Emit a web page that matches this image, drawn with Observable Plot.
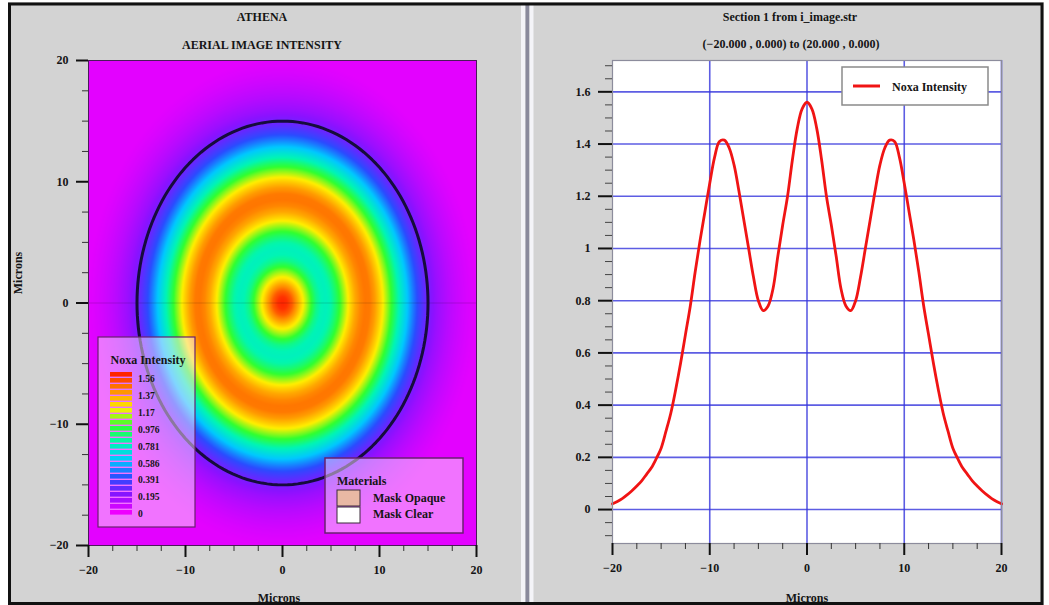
<!DOCTYPE html>
<html><head><meta charset="utf-8">
<script src="https://cdn.jsdelivr.net/npm/d3@7"></script>
<script src="https://cdn.jsdelivr.net/npm/@observablehq/plot@0.6"></script>
<style>
html,body{margin:0;padding:0;background:#fff;}
#root{position:relative;width:1049px;height:605px;overflow:hidden;}
#root > *{position:absolute;}
</style></head><body><div id="root"></div><script>
// ---------- data ----------
// cross-section along y = 0, from (-20,0) to (20,0)
const sectionX = [-20,-19.5,-19,-18.5,-18,-17.5,-17,-16.5,-16,-15.5,-15,-14.5,-14,-13.5,-13,-12.5,-12,-11.5,-11,-10.5,-10,-9.5,-9,-8.5,-8,-7.5,-7,-6.5,-6,-5.5,-5,-4.5,-4,-3.5,-3,-2.5,-2,-1.5,-1,-0.5,0,0.5,1,1.5,2,2.5,3,3.5,4,4.5,5,5.5,6,6.5,7,7.5,8,8.5,9,9.5,10,10.5,11,11.5,12,12.5,13,13.5,14,14.5,15,15.5,16,16.5,17,17.5,18,18.5,19,19.5,20];
const sectionY = [0.022,0.031,0.042,0.056,0.072,0.09,0.11,0.135,0.16,0.195,0.235,0.30,0.37,0.46,0.56,0.67,0.78,0.91,1.03,1.14,1.25,1.35,1.41,1.415,1.385,1.32,1.22,1.11,1.00,0.89,0.80,0.762,0.78,0.845,0.97,1.09,1.20,1.34,1.46,1.535,1.56,1.535,1.46,1.34,1.20,1.09,0.97,0.845,0.78,0.762,0.80,0.89,1.00,1.11,1.22,1.32,1.385,1.415,1.41,1.35,1.25,1.14,1.03,0.91,0.78,0.67,0.56,0.46,0.37,0.30,0.235,0.195,0.16,0.135,0.11,0.09,0.072,0.056,0.042,0.031,0.022];
// intensity legend
const legendValues = [0, 0.195, 0.391, 0.586, 0.781, 0.976, 1.17, 1.37, 1.56];
const legendLabels = ["0","0.195","0.391","0.586","0.781","0.976","1.17","1.37","1.56"];
const legendColors = ["#ee00ff","#8a12ff","#2a4cff","#00c8ff","#00f5b5","#30ff30","#ffef00","#ff9000","#ff2400"];
const maskRadius = 15;
const materials = ["Mask Opaque","Mask Clear"];
const materialColors = ["#e8b8a4","#ffffff"];
// ticks
const ticksXY = [-20,-10,0,10,20];
const minorXY = [-17.5,-15,-12.5,-7.5,-5,-2.5,2.5,5,7.5,12.5,15,17.5];
const ticksI = [0,0.2,0.4,0.6,0.8,1,1.2,1.4,1.6];
const minorI = [-0.1,-0.05,0.05,0.1,0.15,0.25,0.3,0.35,0.45,0.5,0.55,0.65,0.7,0.75,0.85,0.9,0.95,1.05,1.1,1.15,1.25,1.3,1.35,1.45,1.5,1.55,1.65,1.7];

// ---------- helpers ----------
const section = sectionX.map((x, i) => ({x, y: sectionY[i]}));
const radial = section.filter(d => d.x >= 0);
function intensityAt(r) {
  if (r <= radial[0].x) return radial[0].y;
  const n = radial.length;
  if (r >= radial[n - 1].x) return radial[n - 1].y;
  const i = d3.bisector(d => d.x).right(radial, r) - 1;
  const a = radial[i], b = radial[i + 1];
  return a.y + (b.y - a.y) * (r - a.x) / (b.x - a.x);
}
const maskEdge = d3.range(0, 361, 2).map(a => ({x: maskRadius * Math.cos(a * Math.PI / 180), y: maskRadius * Math.sin(a * Math.PI / 180)}));
const FONT = "Liberation Serif, Times New Roman, serif";
const fmtXY = d => d < 0 ? "\u2212" + (-d) : String(d);
const axStyle = {fontSize: 12, fontWeight: "bold", fill: "#151515"};

const root = document.getElementById("root");
const bg = document.createElement("div");
bg.style.cssText = "left:8px;top:2px;width:1036px;height:603px;background:#d3d3d3;";
root.appendChild(bg);

// ---------- left: aerial image ----------
const left = Plot.plot({
  width: 525, height: 605,
  marginLeft: 88, marginRight: 49, marginTop: 60, marginBottom: 60,
  style: {background: "transparent", fontFamily: FONT, overflow: "visible"},
  x: {domain: [-20, 20]},
  y: {domain: [-20, 20]},
  color: {type: "linear", domain: legendValues, range: legendColors, interpolate: "rgb"},
  marks: [
    Plot.raster({fill: (x, y) => intensityAt(Math.hypot(x, y)), x1: -20, x2: 20, y1: -20, y2: 20}),
    Plot.ruleY([0], {stroke: "#000", strokeOpacity: 0.15}),
    Plot.line(maskEdge, {x: "x", y: "y", stroke: "#160c3c", strokeWidth: 3}),
    Plot.frame({stroke: "#4a1a5a", strokeWidth: 1}),
    Plot.axisX({ticks: ticksXY, tickSize: 12, tickPadding: 8, tickFormat: fmtXY, label: null, stroke: "#111", strokeWidth: 2, ...axStyle}),
    Plot.axisX({ticks: minorXY, tickSize: 6, text: null, label: null, stroke: "#333"}),
    Plot.axisY({ticks: ticksXY, tickSize: 12, tickPadding: 8, tickFormat: fmtXY, label: null, stroke: "#111", strokeWidth: 2, ...axStyle}),
    Plot.axisY({ticks: minorXY, tickSize: 6, text: null, label: null, stroke: "#333"})
  ]
});
left.style.left = "0px"; left.style.top = "0px";
root.appendChild(left);
const color = left.scale("color");

// ---------- right: section ----------
const right = Plot.plot({
  width: 505, height: 605,
  marginLeft: 78, marginRight: 38, marginTop: 60, marginBottom: 62,
  style: {background: "transparent", fontFamily: FONT, overflow: "visible"},
  x: {domain: [-20, 20]},
  y: {domain: [-0.13, 1.72]},
  marks: [
    Plot.frame({fill: "white", stroke: null}),
    Plot.ruleX([-10, 0, 10, 20], {stroke: "#3434dc", strokeWidth: 1.6, strokeOpacity: 0.8}),
    Plot.ruleY(ticksI, {stroke: "#3434dc", strokeWidth: 1.6, strokeOpacity: 0.8}),
    Plot.line(section, {x: "x", y: "y", stroke: "#f01414", strokeWidth: 2.8, curve: "catmull-rom"}),
    Plot.frame({stroke: "#8c8c9c", strokeWidth: 1.2}),
    Plot.axisX({ticks: ticksXY, tickSize: 12, tickPadding: 8, tickFormat: fmtXY, label: null, stroke: "#111", strokeWidth: 2, ...axStyle}),
    Plot.axisX({ticks: minorXY, tickSize: 6, text: null, label: null, stroke: "#333"}),
    Plot.axisY({ticks: ticksI, tickSize: 14, tickPadding: 8, tickFormat: d => String(+d.toFixed(1)), label: null, stroke: "#111", strokeWidth: 2, ...axStyle}),
    Plot.axisY({ticks: minorI, tickSize: 7, text: null, label: null, stroke: "#444"})
  ]
});
right.style.left = "534px"; right.style.top = "0px";
root.appendChild(right);

// ---------- overlay: titles, legends, frame ----------
const svg = d3.select(root).append("svg").attr("width", 1049).attr("height", 605)
  .style("left", "0px").style("top", "0px").style("pointer-events", "none")
  .attr("font-family", FONT).attr("font-weight", "bold").attr("fill", "#151515");
const txt = (x, y, s, size = 12, anchor = "middle") => svg.append("text").attr("x", x).attr("y", y)
  .attr("font-size", size).attr("text-anchor", anchor).text(s);

txt(262, 21, "ATHENA");
txt(262, 49, "AERIAL IMAGE INTENSITY");
txt(790, 21, "Section 1 from i_image.str");
txt(791, 48, "(\u221220.000 , 0.000) to (20.000 , 0.000)");
txt(279, 602, "Microns");
txt(807, 602, "Microns");
svg.append("text").attr("transform", "translate(22,273) rotate(-90)").attr("font-size", 12)
  .attr("text-anchor", "middle").text("Microns");

// intensity legend
svg.append("rect").attr("x", 98).attr("y", 337).attr("width", 97).attr("height", 190)
  .attr("fill", "rgba(255,228,255,0.5)").attr("stroke", "#6a2070").attr("stroke-width", 1.2);
txt(148, 364, "Noxa Intensity");
const nStripes = 24;
d3.range(nStripes).forEach(i => {
  const v = legendValues[legendValues.length - 1] * (1 - i / (nStripes - 1));
  svg.append("rect").attr("x", 110).attr("y", 372 + i * 6).attr("width", 22).attr("height", 4.6).attr("fill", color.apply(v));
});
legendLabels.slice().reverse().forEach((s, i) => txt(138, 382 + i * 16.9, s, 9.5, "start"));

// materials legend
svg.append("rect").attr("x", 325).attr("y", 458).attr("width", 138).attr("height", 75)
  .attr("fill", "rgba(255,228,255,0.5)").attr("stroke", "#6a2070").attr("stroke-width", 1.5);
txt(337, 485, "Materials", 12, "start");
materials.forEach((m, i) => {
  svg.append("rect").attr("x", 337).attr("y", 490 + i * 17).attr("width", 23).attr("height", 16)
    .attr("fill", materialColors[i]).attr("stroke", "#3a2a3a").attr("stroke-width", 1);
  txt(373, 502 + i * 16, m, 12, "start");
});

// section legend
svg.append("rect").attr("x", 842).attr("y", 67).attr("width", 146).attr("height", 38)
  .attr("fill", "white").attr("stroke", "#8a8a8a").attr("stroke-width", 1.5);
svg.append("line").attr("x1", 853).attr("x2", 880).attr("y1", 86).attr("y2", 86)
  .attr("stroke", "#f01414").attr("stroke-width", 3);
txt(892, 91, "Noxa Intensity", 12, "start");

// separator + outer frame
svg.append("rect").attr("x", 521).attr("y", 5).attr("width", 4.5).attr("height", 597).attr("fill", "#f4f4f8");
svg.append("rect").attr("x", 525.5).attr("y", 5).attr("width", 4).attr("height", 597).attr("fill", "#8a8a9c");
svg.append("rect").attr("x", 529.5).attr("y", 5).attr("width", 4).attr("height", 597).attr("fill", "#f4f4f8");
svg.append("rect").attr("x", 9.5).attr("y", 4).attr("width", 1032.5).attr("height", 599.5)
  .attr("fill", "none").attr("stroke", "#111").attr("stroke-width", 3);
</script></body></html>
